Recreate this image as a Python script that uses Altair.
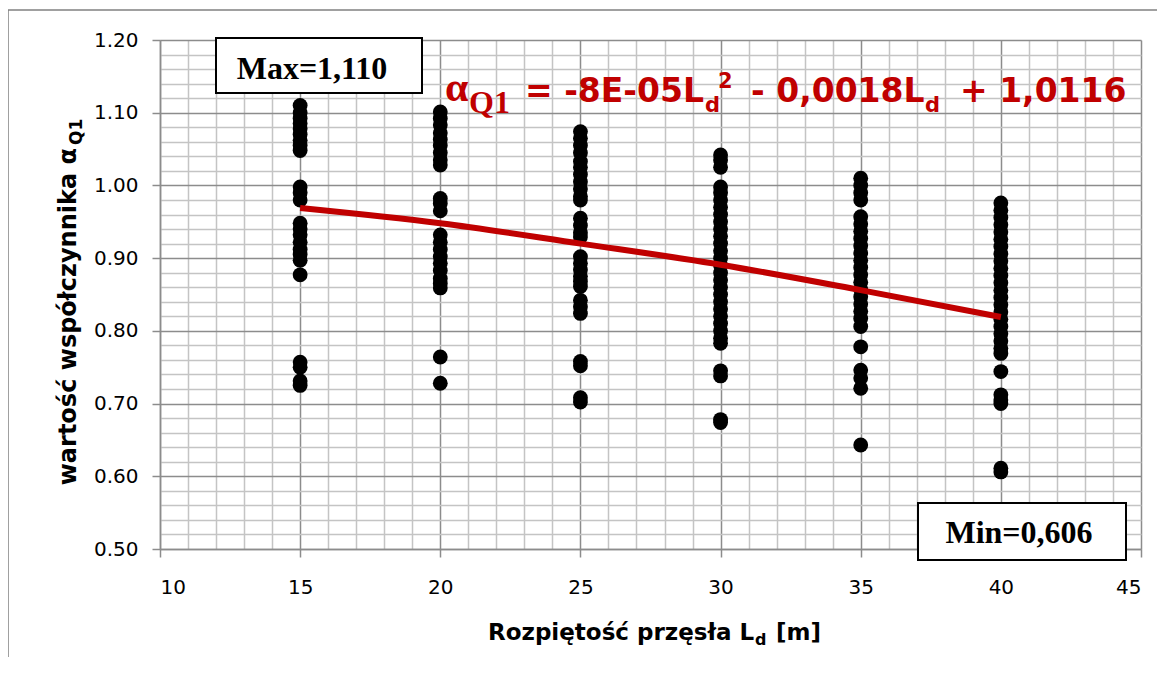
import altair as alt
import pandas as pd

# ---- data ----
spans = [15, 20, 25, 30, 35, 40]
alpha_15 = [1.110, 1.100, 1.092, 1.085, 1.078, 1.070, 1.062, 1.055, 1.048,
            0.998, 0.990, 0.980,
            0.948, 0.940, 0.932, 0.922, 0.912, 0.905, 0.897, 0.877,
            0.757, 0.750, 0.731, 0.725]
alpha_20 = [1.101, 1.092, 1.083, 1.072, 1.063, 1.055, 1.045, 1.035, 1.028,
            0.982, 0.975, 0.965,
            0.932, 0.922, 0.912, 0.902, 0.893, 0.883, 0.872, 0.865, 0.859,
            0.764, 0.728]
alpha_25 = [1.074, 1.065, 1.055, 1.045, 1.033, 1.025, 1.015, 1.005, 0.995, 0.985, 0.980,
            0.955, 0.945, 0.935, 0.929,
            0.902, 0.893, 0.884, 0.875, 0.868, 0.861,
            0.842, 0.833, 0.824,
            0.758, 0.752, 0.708, 0.702]
alpha_30 = [1.042, 1.035, 1.025, 0.998, 0.990, 0.980, 0.970, 0.960, 0.950, 0.940,
            0.930, 0.920, 0.910, 0.900, 0.890, 0.880, 0.870, 0.860, 0.850, 0.840,
            0.830, 0.820, 0.810, 0.800, 0.790, 0.783,
            0.745, 0.738, 0.678, 0.674]
alpha_35 = [1.010, 1.000, 0.990, 0.980,
            0.957, 0.947, 0.937, 0.927, 0.917, 0.907, 0.897, 0.887, 0.877, 0.867,
            0.857, 0.847, 0.837, 0.827, 0.817, 0.806,
            0.778, 0.746, 0.735, 0.721, 0.643]
alpha_40 = [0.976, 0.966, 0.956, 0.946, 0.936, 0.926, 0.916, 0.906, 0.896, 0.886,
            0.876, 0.866, 0.856, 0.846, 0.836, 0.826, 0.816, 0.806, 0.796, 0.786,
            0.776, 0.769, 0.744, 0.712, 0.705, 0.700, 0.611, 0.606]
alpha_cols = [alpha_15, alpha_20, alpha_25, alpha_30, alpha_35, alpha_40]

trend_span = [15, 20, 25, 30, 35, 40]
trend_alpha = [0.969, 0.948, 0.920, 0.891, 0.856, 0.819]

major_x = [10, 15, 20, 25, 30, 35, 40, 45]
major_y = [0.5, 0.6, 0.7, 0.8, 0.9, 1.0, 1.1, 1.2]
minor_x = [v for v in range(10, 46) if v % 5 != 0]
minor_y = [round(0.5 + 0.02 * i, 2) for i in range(36) if i % 5 != 0]

points_df = pd.DataFrame(
    [{"span": s, "alpha": a} for s, col in zip(spans, alpha_cols) for a in col]
)
trend_df = pd.DataFrame({"span": trend_span, "alpha": trend_alpha})

# ---- layout ----
OX, OY = 160, 40  # plot origin on the page
W, H = 981, 509
SANS = "DejaVu Sans"
SERIF = "Liberation Serif"
RED = "#C00000"
MAJOR = "#8c8c8c"
MINOR = "#c4c4c4"

x_scale = alt.Scale(domain=[10, 45], nice=False)
y_scale = alt.Scale(domain=[0.5, 1.2], nice=False, zero=False)

minor_ax = dict(grid=True, gridColor=MINOR, gridWidth=1.5, labels=False,
                ticks=False, domain=False, title=None)

points = alt.Chart(points_df).mark_circle(size=220, color="black", opacity=1).encode(
    x=alt.X("span:Q", scale=x_scale, axis=alt.Axis(orient="top", values=minor_x, **minor_ax)),
    y=alt.Y("alpha:Q", scale=y_scale, axis=alt.Axis(orient="right", values=minor_y, **minor_ax)),
)

major_common = dict(grid=True, gridColor=MAJOR, gridWidth=1.5, domainColor=MAJOR,
                    domainWidth=1.5, tickColor=MAJOR, tickWidth=1.5, tickSize=8,
                    labelFont=SANS, labelFontSize=20, labelColor="black", title=None)

trend = alt.Chart(trend_df).mark_line(color=RED, strokeWidth=6, interpolate="monotone").encode(
    x=alt.X("span:Q", scale=x_scale,
            axis=alt.Axis(orient="bottom", values=major_x, format="d", labelPadding=20,
                          **major_common)),
    y=alt.Y("alpha:Q", scale=y_scale,
            axis=alt.Axis(orient="left", values=major_y, format=".2f", labelPadding=14,
                          **major_common)),
)

one = pd.DataFrame({"k": [0]})


def txt(text, sx, sy, size, font=SANS, color="black", align="left", angle=0,
        weight="bold", baseline="alphabetic"):
    kw = dict(text=text, fontSize=size, font=font, color=color, align=align,
              fontWeight=weight, baseline=baseline)
    if angle:
        kw["angle"] = angle
    return alt.Chart(one).mark_text(**kw).encode(
        x=alt.value(sx - OX), y=alt.value(sy - OY))


def box(x1, y1, x2, y2):
    return alt.Chart(one).mark_rect(fill="white", stroke="black", strokeWidth=2).encode(
        x=alt.value(x1 - OX), x2=alt.value(x2 - OX), y=alt.value(y1 - OY), y2=alt.value(y2 - OY))


border_top = alt.Chart(one).mark_rule(color="#808080", strokeWidth=1.5).encode(
    x=alt.value(8 - OX), x2=alt.value(1200 - OX), y=alt.value(10 - OY))
border_left = alt.Chart(one).mark_rule(color="#808080", strokeWidth=1.5).encode(
    x=alt.value(8 - OX), y=alt.value(10 - OY), y2=alt.value(700 - OY))

annotations = [
    border_top, border_left,
    box(216, 38, 422, 93),
    txt("Max=1,110", 312, 79, 32, font=SERIF, align="center"),
    box(918, 503, 1126, 560),
    txt("Min=0,606", 1019, 543, 32, font=SERIF, align="center"),
    # equation
    txt("α", 445, 101, 42, font=SERIF, color=RED),
    txt("Q1", 469, 113, 32, font=SERIF, color=RED),
    txt("= -8E-05L", 525, 102, 33, color=RED),
    txt("d", 705, 112, 21, color=RED),
    txt("2", 718, 88, 21, color=RED),
    txt("- 0,0018L", 751, 102, 33, color=RED),
    txt("d", 925, 112, 21, color=RED),
    txt("+ 1,0116", 960, 102, 33, color=RED),
    # y-axis title
    txt("wartość współczynnika α", 76, 148, 24, align="right", angle=270),
    txt("Q1", 82, 145, 17, align="left", angle=270),
    # x-axis title
    txt("Rozpiętość przęsła L", 488, 640, 23),
    txt("d", 755, 645, 16),
    txt("[m]", 776, 640, 23),
]

chart = alt.layer(points, trend, *annotations).properties(
    width=W, height=H,
    padding={"left": OX - 8, "top": OY - 8, "right": 16, "bottom": 108},
    autosize=alt.AutoSizeParams(type="none"),
).configure_view(stroke=None)

chart.save("out.html", embed_options={"renderer": "svg", "actions": False})
